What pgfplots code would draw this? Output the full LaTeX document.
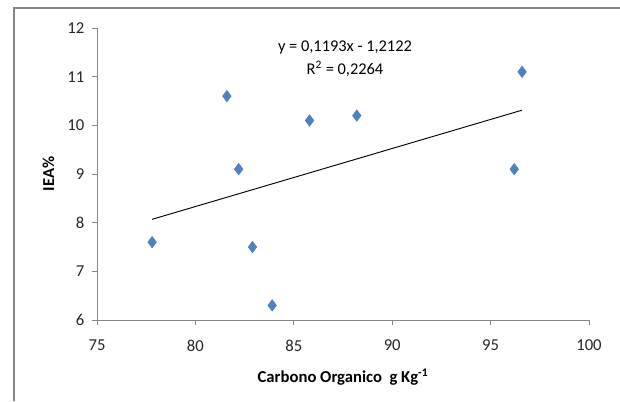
\documentclass[border=0pt]{standalone}
\usepackage{fontspec}
\setmainfont{Carlito}
\usepackage{pgfplots}
\pgfplotsset{compat=1.18}
\definecolor{excelblue}{RGB}{79,129,189}
\definecolor{axisgray}{RGB}{134,134,134}

\begin{document}
\begin{tikzpicture}[x=0.75pt,y=0.75pt]
\useasboundingbox (0,0) rectangle (620,401);
\draw[axisgray, line width=0.9pt] (14,0) -- (14,393) -- (620,393);
\begin{axis}[
    at={(97pt*0.75,81pt*0.75)}, anchor=south west,
    scale only axis,
    width=369pt, height=219pt,
    xmin=75, xmax=100, ymin=6, ymax=12,
    xtick={75,80,...,100}, ytick={6,7,...,12},
    axis x line*=bottom, axis y line*=left,
    axis line style={axisgray, line width=0.6pt},
    tick style={axisgray, line width=0.6pt},
    tick align=outside, major tick length=4pt,
    x axis line style={-}, y axis line style={-},
    tick label style={font=\fontsize{12.5}{14}\selectfont, text=black!85},
    /pgf/number format/assume math mode=true,
    xticklabel style={yshift=-7.5pt},
    yticklabel style={xshift=-2pt},
    xlabel={\textbf{Carbono Organico\ \ g Kg\textsuperscript{-1}}},
    ylabel={\textbf{IEA\%}},
    label style={font=\fontsize{12.5}{14}\selectfont},
    xlabel style={yshift=-6pt},
    ylabel style={yshift=3pt},
    clip=false,
]
\addplot[only marks, mark=diamond*, mark size=4.3pt, color=excelblue] coordinates {
    (77.8,7.6) (81.6,10.6) (82.2,9.1) (82.9,7.5) (83.9,6.3)
    (85.8,10.1) (88.2,10.2) (96.2,9.1) (96.6,11.1)
};
\addplot[black, line width=0.7pt] coordinates {(77.8,8.069) (96.6,10.312)};
\node[align=center, font=\fontsize{12.3}{17.2}\selectfont] at (axis cs:87.6,11.37)
    {y = 0,1193x - 1,2122\\R\textsuperscript{2} = 0,2264};
\end{axis}
\end{tikzpicture}
\end{document}
